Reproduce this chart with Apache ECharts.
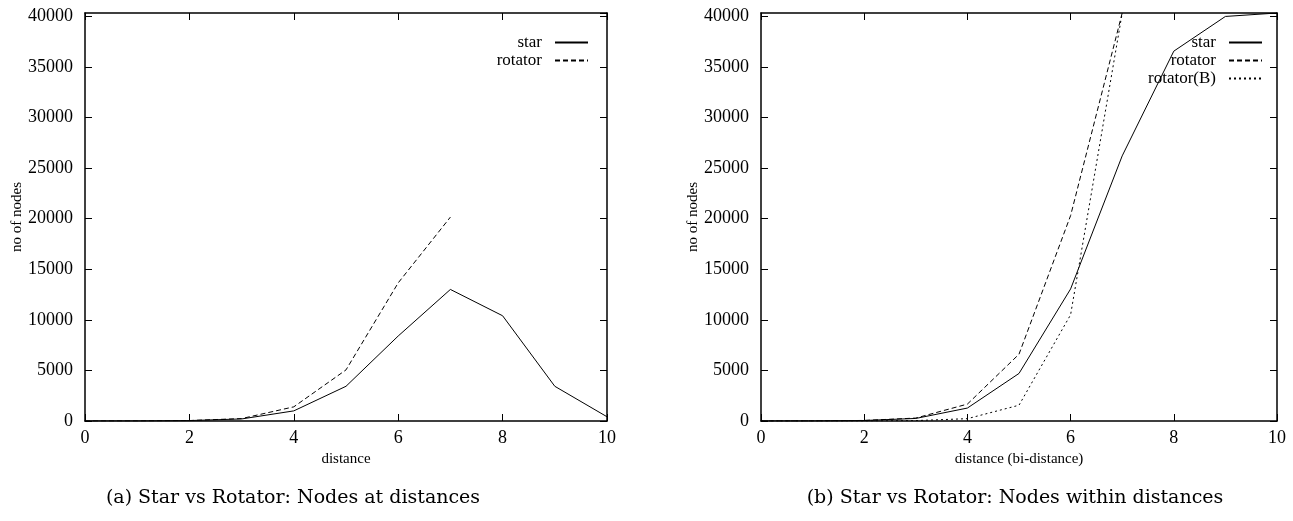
<!DOCTYPE html>
<html>
<head>
<meta charset="utf-8">
<title></title>
<script src="https://cdn.jsdelivr.net/npm/echarts@6/dist/echarts.min.js"></script>
</head>
<body style="margin:0;background:#fff;">
<div id="my" style="width:1293px;height:521px;"></div>
<script>
var myChart = echarts.init(document.getElementById('my'));

// distances 0..10
var dist = [0, 1, 2, 3, 4, 5, 6, 7, 8, 9, 10];
// (a) nodes at distance
var starAt = [1, 7, 42, 203, 1000, 3430, 8400, 13000, 10400, 3430, 420];
var rotatorAt = [1, 7, 45, 240, 1400, 5050, 13650, 20150];
// (b) nodes within distance
var starWithin = [1, 8, 50, 253, 1280, 4700, 13050, 26200, 36550, 39980, 40320];
var rotatorWithin = [1, 8, 55, 290, 1670, 6600, 20300, 40320];
var rotatorBWithin = [1, 2, 6, 40, 230, 1560, 10500, 40320];

var yMax = 40320;
var captions = ['(a) Star vs Rotator: Nodes at distances', '(b) Star vs Rotator: Nodes within distances'];

function pairs(ys) {
	var out = [];
	for (var i = 0; i < ys.length; i++) out.push([dist[i], ys[i]]);
	return out;
}

var serif = 'Liberation Serif';
var grids = [
	{left: 85, right: 686, top: 13, bottom: 100},
	{left: 761, right: 16, top: 13, bottom: 100}
];
var xNames = ['distance', 'distance (bi-distance)'];

var axisLine = {show: true, onZero: false, lineStyle: {color: '#000', width: 1.5}};
var axisTick = {show: true, inside: true, length: 7, lineStyle: {color: '#000'}};

var xAxes = [], yAxes = [];
for (var g = 0; g < 2; g++) {
	// bottom axis
	xAxes.push({
		type: 'value', gridIndex: g, min: 0, max: 10, interval: 2,
		name: xNames[g], nameLocation: 'middle', nameGap: 28,
		nameTextStyle: {fontFamily: serif, fontSize: 15, color: '#000'},
		axisLine: axisLine, axisTick: axisTick,
		axisLabel: {fontFamily: serif, fontSize: 18, color: '#000', margin: 8},
		splitLine: {show: false}
	});
	// top mirror
	xAxes.push({
		type: 'value', gridIndex: g, position: 'top', min: 0, max: 10, interval: 2,
		axisLine: axisLine, axisTick: axisTick,
		axisLabel: {show: false},
		splitLine: {show: false}
	});
	yAxes.push({
		type: 'value', gridIndex: g, position: 'left', min: 0, max: yMax, interval: 5000,
		name: 'no of nodes', nameLocation: 'middle', nameGap: 58,
		nameTextStyle: {fontFamily: serif, fontSize: 15, color: '#000'},
		axisLine: axisLine, axisTick: axisTick,
		axisLabel: {fontFamily: serif, fontSize: 18, color: '#000', margin: 12, showMaxLabel: false,
			formatter: function (v) { return String(v); }},
		splitLine: {show: false}
	});
	// right mirror
	yAxes.push({
		type: 'value', gridIndex: g, position: 'right', min: 0, max: yMax, interval: 5000,
		axisLine: axisLine, axisTick: axisTick,
		axisLabel: {show: false},
		splitLine: {show: false}
	});
}

function line(name, ys, g, dash) {
	return {
		name: name, type: 'line', xAxisIndex: g * 2, yAxisIndex: g * 2,
		data: pairs(ys), symbol: 'none', showSymbol: false, color: '#000',
		itemStyle: {color: '#000'},
		lineStyle: {color: '#000', width: 1, type: dash}
	};
}

var legendBase = {
	orient: 'vertical', align: 'right', top: 29,
	itemWidth: 33, itemHeight: 10, itemGap: 1,
	itemStyle: {color: 'rgba(0,0,0,0)', borderWidth: 0},
	textStyle: {fontFamily: serif, fontSize: 17, color: '#000', padding: [0, 8, 0, 0]}
};

var option = {
	animation: false,
	grid: grids,
	xAxis: xAxes,
	yAxis: yAxes,
	title: [
		{text: captions[0], left: 288, top: 484, textAlign: 'center',
			textStyle: {fontFamily: 'DejaVu Serif', fontSize: 19, fontWeight: 'normal', color: '#000'}},
		{text: captions[1], left: 1010, top: 484, textAlign: 'center',
			textStyle: {fontFamily: 'DejaVu Serif', fontSize: 19, fontWeight: 'normal', color: '#000'}}
	],
	legend: [
		Object.assign({}, legendBase, {data: ['star', 'rotator'], right: 699}),
		Object.assign({}, legendBase, {data: ['star', 'rotator', 'rotator(B)'], right: 25})
	],
	series: [
		line('star', starAt, 0, 'solid'),
		line('rotator', rotatorAt, 0, [5, 3]),
		line('star', starWithin, 1, 'solid'),
		line('rotator', rotatorWithin, 1, [5, 3]),
		line('rotator(B)', rotatorBWithin, 1, [2, 3])
	]
};

myChart.setOption(option);
</script>
</body>
</html>
